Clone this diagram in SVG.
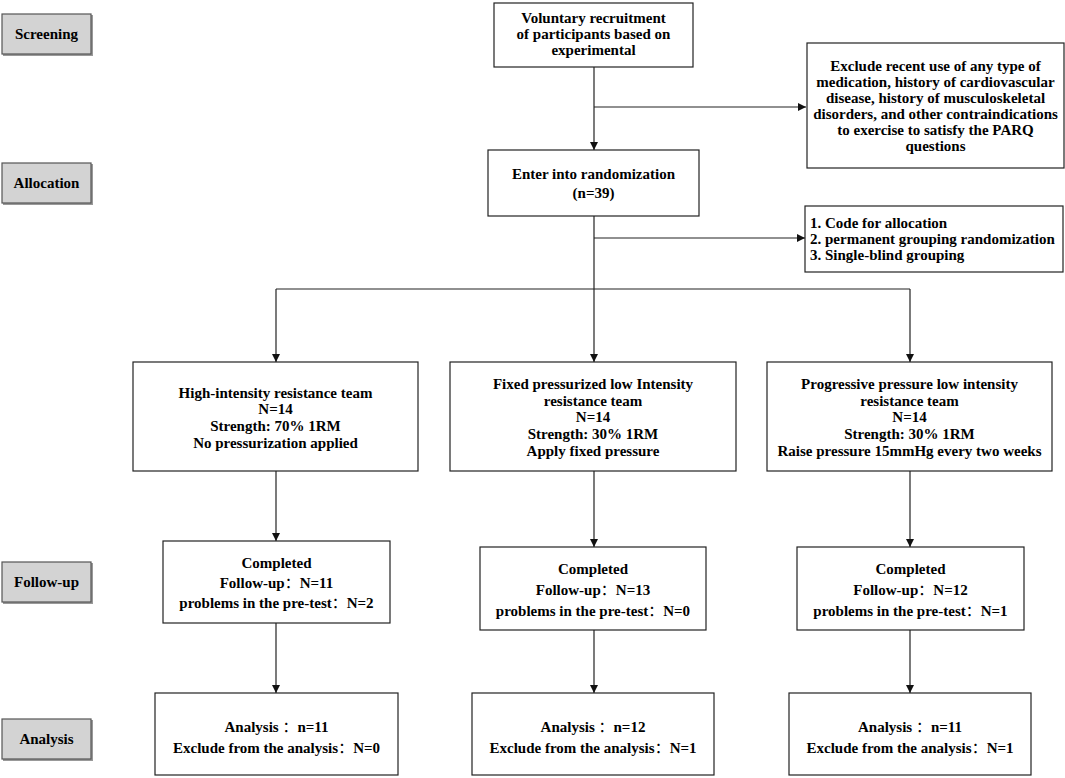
<svg xmlns="http://www.w3.org/2000/svg" width="1065" height="778" viewBox="0 0 1065 778">
<style>
text{font-family:'Liberation Serif','Times New Roman',serif;font-weight:bold;font-size:15px;fill:#000}
.k{font-family:'Noto Sans CJK SC',sans-serif;font-weight:normal}
.c{text-anchor:middle}
.box{fill:#fff;stroke:#222;stroke-width:1.2}
.shadow{fill:#999}
.stage{fill:#d3d3d3;stroke:#555;stroke-width:1.2}
.ln{stroke:#222;stroke-width:1.2;fill:none}
</style>
<defs>
<marker id="ah" viewBox="0 0 10 10" refX="10" refY="5" markerWidth="9" markerHeight="8" markerUnits="userSpaceOnUse" orient="auto">
<path d="M0,0 L10,5 L0,10 z" fill="#111"/>
</marker>
</defs>
<rect width="1065" height="778" fill="#fff"/>

<g id="stage-screening"><rect class="shadow" x="3" y="15" width="90" height="41"/><rect class="stage" x="2" y="14" width="89" height="40"/><text class="c" x="46.5" y="39">Screening</text></g>
<g id="stage-allocation"><rect class="shadow" x="3" y="164" width="90" height="41"/><rect class="stage" x="2" y="163" width="89" height="40"/><text class="c" x="46.5" y="188">Allocation</text></g>
<g id="stage-followup"><rect class="shadow" x="3" y="563" width="90" height="41"/><rect class="stage" x="2" y="562" width="89" height="40"/><text class="c" x="46.5" y="587">Follow-up</text></g>
<g id="stage-analysis"><rect class="shadow" x="3" y="720" width="90" height="41"/><rect class="stage" x="2" y="719" width="89" height="40"/><text class="c" x="46.5" y="744">Analysis</text></g>

<g id="connectors">
<line class="ln" x1="594" y1="67" x2="594" y2="150" marker-end="url(#ah)"/>
<line class="ln" x1="594" y1="107" x2="806" y2="107" marker-end="url(#ah)"/>
<line class="ln" x1="594" y1="216" x2="594" y2="289"/>
<line class="ln" x1="594" y1="238" x2="805" y2="238" marker-end="url(#ah)"/>
<line class="ln" x1="276" y1="289" x2="910" y2="289"/>
<line class="ln" x1="276" y1="289" x2="276" y2="362" marker-end="url(#ah)"/>
<line class="ln" x1="594" y1="289" x2="594" y2="362" marker-end="url(#ah)"/>
<line class="ln" x1="910" y1="289" x2="910" y2="362" marker-end="url(#ah)"/>
<line class="ln" x1="276" y1="471" x2="276" y2="541" marker-end="url(#ah)"/>
<line class="ln" x1="594" y1="471" x2="594" y2="547" marker-end="url(#ah)"/>
<line class="ln" x1="910" y1="471" x2="910" y2="547" marker-end="url(#ah)"/>
<line class="ln" x1="276" y1="623" x2="276" y2="693" marker-end="url(#ah)"/>
<line class="ln" x1="594" y1="630" x2="594" y2="693" marker-end="url(#ah)"/>
<line class="ln" x1="910" y1="630" x2="910" y2="693" marker-end="url(#ah)"/>
</g>

<g id="recruit"><rect class="box" x="494" y="3" width="199" height="64"/>
<text class="c" x="593.5" y="23">Voluntary recruitment</text>
<text class="c" x="593.5" y="39">of participants based on</text>
<text class="c" x="593.5" y="55">experimental</text></g>

<g id="exclude"><rect class="box" x="807" y="43" width="257" height="125"/>
<text class="c" x="935.5" y="71">Exclude recent use of any type of</text>
<text class="c" x="935.5" y="87">medication, history of cardiovascular</text>
<text class="c" x="935.5" y="103">disease, history of musculoskeletal</text>
<text class="c" x="935.5" y="119">disorders, and other contraindications</text>
<text class="c" x="935.5" y="135">to exercise to satisfy the PARQ</text>
<text class="c" x="935.5" y="151">questions</text></g>

<g id="randomization"><rect class="box" x="488" y="150" width="211" height="66"/>
<text class="c" x="593.5" y="179">Enter into randomization</text>
<text class="c" x="593.5" y="198">(n=39)</text></g>

<g id="allocation-method"><rect class="box" x="805" y="206" width="258" height="66"/>
<text x="810" y="228">1. Code for allocation</text>
<text x="810" y="244">2. permanent grouping randomization</text>
<text x="810" y="260">3. Single-blind grouping</text></g>

<g id="group1"><rect class="box" x="133" y="362" width="285" height="109"/>
<text class="c" x="275.5" y="398">High-intensity resistance team</text>
<text class="c" x="275.5" y="414">N=14</text>
<text class="c" x="275.5" y="431">Strength: 70% 1RM</text>
<text class="c" x="275.5" y="448">No pressurization applied</text></g>

<g id="group2"><rect class="box" x="450" y="362" width="286" height="109"/>
<text class="c" x="593" y="389">Fixed pressurized low Intensity</text>
<text class="c" x="593" y="406">resistance team</text>
<text class="c" x="593" y="422">N=14</text>
<text class="c" x="593" y="439">Strength: 30% 1RM</text>
<text class="c" x="593" y="456">Apply fixed pressure</text></g>

<g id="group3"><rect class="box" x="767" y="362" width="285" height="109"/>
<text class="c" x="909.5" y="389">Progressive pressure low intensity</text>
<text class="c" x="909.5" y="406">resistance team</text>
<text class="c" x="909.5" y="422">N=14</text>
<text class="c" x="909.5" y="439">Strength: 30% 1RM</text>
<text class="c" x="909.5" y="456">Raise pressure 15mmHg every two weeks</text></g>

<g id="follow1"><rect class="box" x="163" y="541" width="227" height="82"/>
<text class="c" x="276.5" y="568">Completed</text>
<text class="c" x="276.5" y="588">Follow-up<tspan class="k">：</tspan>N=11</text>
<text class="c" x="276.5" y="608">problems in the pre-test<tspan class="k">：</tspan>N=2</text></g>

<g id="follow2"><rect class="box" x="480" y="547" width="226" height="83"/>
<text class="c" x="593" y="574">Completed</text>
<text class="c" x="593" y="595">Follow-up<tspan class="k">：</tspan>N=13</text>
<text class="c" x="593" y="616">problems in the pre-test<tspan class="k">：</tspan>N=0</text></g>

<g id="follow3"><rect class="box" x="797" y="547" width="227" height="83"/>
<text class="c" x="910.5" y="574">Completed</text>
<text class="c" x="910.5" y="595">Follow-up<tspan class="k">：</tspan>N=12</text>
<text class="c" x="910.5" y="616">problems in the pre-test<tspan class="k">：</tspan>N=1</text></g>

<g id="analysis1"><rect class="box" x="155" y="693" width="243" height="82"/>
<text class="c" x="276.5" y="732">Analysis <tspan class="k">：</tspan>n=11</text>
<text class="c" x="276.5" y="753">Exclude from the analysis<tspan class="k">：</tspan>N=0</text></g>

<g id="analysis2"><rect class="box" x="472" y="693" width="242" height="82"/>
<text class="c" x="593" y="732">Analysis <tspan class="k">：</tspan>n=12</text>
<text class="c" x="593" y="753">Exclude from the analysis<tspan class="k">：</tspan>N=1</text></g>

<g id="analysis3"><rect class="box" x="789" y="693" width="242" height="82"/>
<text class="c" x="910" y="732">Analysis <tspan class="k">：</tspan>n=11</text>
<text class="c" x="910" y="753">Exclude from the analysis<tspan class="k">：</tspan>N=1</text></g>
</svg>
